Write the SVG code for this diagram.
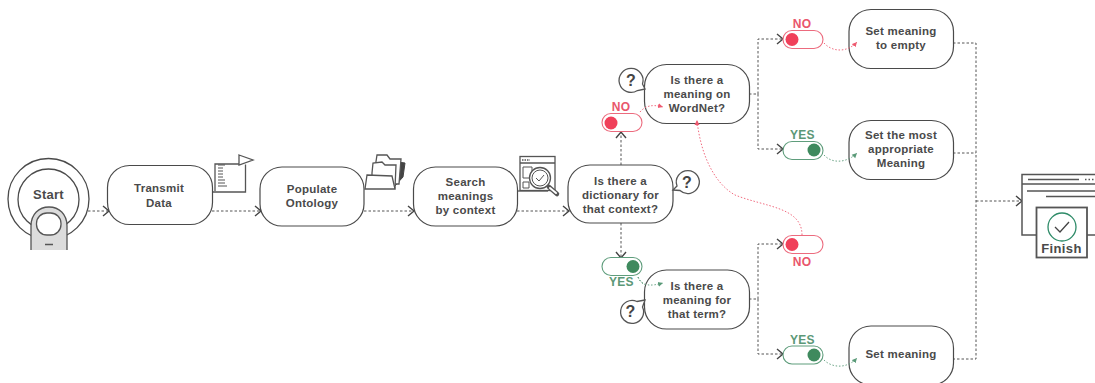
<svg xmlns="http://www.w3.org/2000/svg" width="1095" height="383" viewBox="0 0 1095 383">
<style>
text{font-family:"Liberation Sans",Arial,sans-serif;font-weight:700;font-size:11.5px;letter-spacing:.25px;fill:#4a4a4a;text-anchor:middle}
.box{fill:#fff;stroke:#4a4a4a;stroke-width:1.2}
.ic{fill:#fff;stroke:#555;stroke-width:1.3}
.bar{fill:none;stroke:#555;stroke-width:1}
.dk{fill:none;stroke:#555;stroke-width:1;stroke-dasharray:2.5 2}
.rd{fill:none;stroke:#ee5a70;stroke-width:.9;stroke-dasharray:1.5 1.8}
.gr{fill:none;stroke:#5a9a78;stroke-width:.9;stroke-dasharray:1.5 1.8}
.tr{fill:#fff;stroke:#ec6b7e;stroke-width:1.1}
.tg{fill:#fff;stroke:#5f9d7c;stroke-width:1.1}
.kr{fill:#f0405a}
.kg{fill:#3f8a5e}
text.no{fill:#e9566c;font-size:12px}
text.yes{fill:#5c9877;font-size:12px}
text.q{font-size:16px;fill:#444}
</style>
<defs>
<marker id="a" markerWidth="10" markerHeight="14" refX="7.500" refY="7" orient="auto" markerUnits="userSpaceOnUse"><path d="M1.500 2L7.500 7L1.500 12" fill="none" stroke="#444" stroke-width="1.400"/></marker>
<marker id="r" markerWidth="6" markerHeight="6" refX="5" refY="3" orient="auto" markerUnits="userSpaceOnUse"><path d="M0 .5L5 3L0 5.500z" fill="#ee5a70"/></marker>
<marker id="g" markerWidth="6" markerHeight="6" refX="5" refY="3" orient="auto" markerUnits="userSpaceOnUse"><path d="M0 .5L5 3L0 5.500z" fill="#5a9a78"/></marker>
</defs>
<g id="connectors">
<path class="dk" marker-end="url(#a)" d="M88 211H109"/>
<path class="dk" marker-end="url(#a)" d="M212 211H261"/>
<path class="dk" marker-end="url(#a)" d="M364 211H414"/>
<path class="dk" marker-end="url(#a)" d="M517 211H569"/>
<path class="dk" marker-end="url(#a)" d="M621 165V132"/>
<path class="dk" marker-end="url(#a)" d="M621 223V258"/>
<path class="dk" d="M749 94H758"/>
<path class="dk" marker-end="url(#a)" d="M758 94V39H783"/>
<path class="dk" marker-end="url(#a)" d="M758 94V149H783"/>
<path class="dk" d="M749 299H758"/>
<path class="dk" marker-end="url(#a)" d="M758 299V244H783"/>
<path class="dk" marker-end="url(#a)" d="M758 299V354H783"/>
<path class="dk" d="M953 43H976V359H953"/>
<path class="dk" d="M953 153H976"/>
<path class="dk" marker-end="url(#a)" d="M976 201H1022"/>
<path class="rd" d="M802 235C802 207 765 207 735 195C712 182 700 150 697 120"/>
<path class="gr" d="M638 277C642 287 652 286 645 285"/>
</g>
<g id="start">
<circle cx="48.500" cy="199" r="40.500" fill="#fff" stroke="#4a4a4a" stroke-width="1.300"/>
<circle cx="48.500" cy="199.500" r="30.500" fill="#fff" stroke="#4a4a4a" stroke-width="1.300"/>
<text x="48.500" y="199" style="font-size:13px">Start</text>
<path d="M31 250V226C31 214 39 207 49 207C59 207 67 214 67 226V250" fill="#dcdcdc" stroke="#555" stroke-width="1.300"/>
<rect x="36.500" y="213" width="24.500" height="22" rx="10.500" fill="#fff" stroke="#555" stroke-width="1.300"/>
<path d="M45 244.500H53" stroke="#555" stroke-width="1.500"/>
</g>
<g id="transmit">
<path class="ic" d="M210 192H245.500V164.500M239 164H215V191"/>
<path class="ic" d="M239 155L253 160L239 165Z"/>
<path d="M218 165h7M218 168h5M218 171h5M218 174h5M218 177h5M218 180h7M218 183h7M218 186h9" stroke="#555" stroke-width="1"/>
<rect class="box" x="107.500" y="165.500" width="105" height="59" rx="22"/>
<text x="159" y="192">Transmit</text><text x="159" y="207">Data</text>
</g>
<g id="populate">
<path d="M392 189L403 177L405 163L398 162L396 185Z" fill="#444" stroke="#444"/>
<path class="ic" d="M375 168L377 155L387 155L390 159H401L399 184H375Z"/>
<path class="ic" d="M372 173L373 163L382 162L385 165H396L395 188H372Z"/>
<path class="ic" d="M367 175L392 176L395 189H365Z"/>
<rect class="box" x="260" y="167" width="104" height="59" rx="22"/>
<text x="312" y="193">Populate</text><text x="312" y="207">Ontology</text>
</g>
<g id="search">
<rect class="ic" x="520" y="156.500" width="35" height="34"/>
<path d="M520 163H555" stroke="#555" stroke-width="1.500"/>
<path d="M522 160h8" stroke="#555" stroke-width="1.500" stroke-dasharray="1.500 1"/>
<path class="bar" d="M523 167h9v11h-9zM523 182h6v6h-6z"/>
<path d="M516 191h32" stroke="#555" stroke-width="1.300"/>
<circle class="ic" cx="540" cy="178" r="10.500"/>
<circle class="bar" cx="540" cy="178" r="8"/>
<path class="bar" d="M536 178l3 3l5-6"/>
<path d="M549 187l8 7" stroke="#555" stroke-width="4.500" stroke-linecap="round"/><path d="M550 188l6 5" stroke="#fff" stroke-width="2" stroke-linecap="round"/>
<rect class="box" x="413.500" y="167" width="104" height="59" rx="22"/>
<text x="465.500" y="186">Search</text><text x="465.500" y="200">meanings</text><text x="465.500" y="214">by context</text>
</g>
<g id="dictionary">
<rect class="box" x="568" y="165" width="105" height="58" rx="22"/>
<text x="620.500" y="185">Is there a</text><text x="620.500" y="199">dictionary for</text><text x="620.500" y="213">that context?</text>
<path class="ic" d="M673 190L680 190.500A11.500 11.500 0 1 0 677 186Z"/>
<text class="q" x="687" y="188">?</text>
</g>
<g id="wordnet">
<rect class="box" x="644.500" y="64.500" width="105" height="59" rx="22"/>
<text x="697" y="84">Is there a</text><text x="697" y="98">meaning on</text><text x="697" y="112">WordNet?</text>
<path class="ic" d="M645 89L637.500 90.500A12 12 0 1 1 642.500 84Z"/>
<text class="q" x="631" y="86">?</text>
</g>
<g id="term">
<rect class="box" x="644.500" y="270" width="105" height="59" rx="22"/>
<text x="697" y="290">Is there a</text><text x="697" y="304">meaning for</text><text x="697" y="318">that term?</text>
<path class="ic" d="M645 300L637 301.500A11.500 11.500 0 1 0 642.500 307Z"/>
<text class="q" x="630.500" y="317">?</text>
</g>
<g id="empty">
<rect class="box" x="849" y="9.500" width="104.500" height="59" rx="22"/>
<text x="901" y="35">Set meaning</text><text x="901" y="49">to empty</text>
</g>
<g id="appropriate">
<rect class="box" x="849" y="120.500" width="104.500" height="59" rx="22"/>
<text x="901" y="139">Set the most</text><text x="901" y="153">appropriate</text><text x="901" y="167">Meaning</text>
</g>
<g id="setmeaning">
<rect class="box" x="849" y="326" width="104.500" height="59" rx="22"/>
<text x="901" y="358">Set meaning</text>
</g>
<g id="toggle-no-1"><rect class="tr" x="602" y="113.500" width="40" height="18" rx="9"/><circle class="kr" cx="611" cy="123" r="6.500"/><text class="no" x="621" y="111">NO</text></g>
<g id="toggle-yes-1"><rect class="tg" x="602" y="257.500" width="40" height="18" rx="9"/><circle class="kg" cx="633" cy="266.500" r="6.500"/><text class="yes" x="621.500" y="286">YES</text></g>
<g id="toggle-no-2"><rect class="tr" x="783" y="30.500" width="40" height="18" rx="9"/><circle class="kr" cx="792" cy="39.500" r="6.500"/><text class="no" x="802" y="28">NO</text></g>
<g id="toggle-yes-2"><rect class="tg" x="783" y="141.500" width="40" height="18" rx="9"/><circle class="kg" cx="814" cy="150" r="6.500"/><text class="yes" x="802.500" y="139">YES</text></g>
<g id="toggle-no-3"><rect class="tr" x="783" y="235.500" width="40" height="18" rx="9"/><circle class="kr" cx="792" cy="244.500" r="6.500"/><text class="no" x="802" y="266">NO</text></g>
<g id="toggle-yes-3"><rect class="tg" x="783" y="346" width="40" height="18" rx="9"/><circle class="kg" cx="814" cy="355" r="6.500"/><text class="yes" x="802.500" y="344">YES</text></g>
<g id="finish">
<path d="M1100 174.500H1022V235H1100" fill="#fff" stroke="#555" stroke-width="1.500"/>
<path d="M1022 184H1100" stroke="#555" stroke-width="1.300"/>
<path d="M1028 179.500H1079" stroke="#555" stroke-width="1.500"/>
<path d="M1085 179.500H1095" stroke="#555" stroke-width="1.500" stroke-dasharray="1.500 2"/>
<path d="M1027 191H1095M1046 196.500H1095" stroke="#555" stroke-width="1.500"/>
<rect x="1036.500" y="207.500" width="50.500" height="50" fill="#fff" stroke="#555" stroke-width="1.800"/>
<circle cx="1062" cy="227" r="14" fill="#fff" stroke="#2e8b68" stroke-width="1.300"/>
<path d="M1055 227l5 5l9-10" fill="none" stroke="#444" stroke-width="1.300"/>
<text x="1061.500" y="253" style="font-size:13px;letter-spacing:.4px">Finish</text>
</g>
<g id="connectors-over">
<path class="rd" marker-end="url(#r)" d="M697 126L697 120"/>
<path class="rd" marker-end="url(#r)" d="M640 112C645 106 652 104 663 107"/>
<path class="rd" marker-end="url(#r)" d="M824 43C832 52 847 53 857 42"/>
<path class="gr" marker-end="url(#g)" d="M824 155C832 164 847 163 857 153"/>
<path class="gr" marker-end="url(#g)" d="M824 360C832 368 847 369 857 358"/>
<path class="gr" marker-end="url(#g)" d="M638 277C642 287 652 286 663 283"/>
</g>
</svg>
